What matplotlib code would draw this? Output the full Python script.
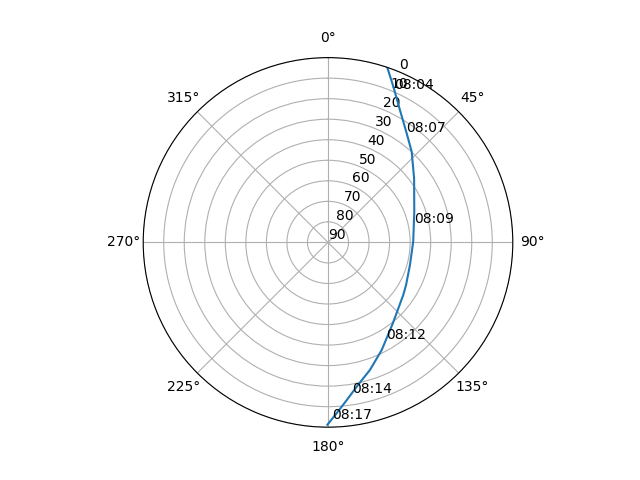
import numpy as np
import matplotlib
matplotlib.use("Agg")
import matplotlib.pyplot as plt

# Satellite pass track: azimuth (deg) and elevation (deg)
azimuth = [18.7, 22.8, 28.5, 35.8, 42.7, 53.3, 70.4, 89.5, 105.4, 118.6, 124.9,
           141.3, 153.5, 161.8, 167.5, 173.2, 177.1, 180.2]
elevation = [0.0, 7.8, 16.6, 24.5, 29.9, 37.7, 45.4, 48.5, 48.6, 46.7, 45.3,
             39.5, 31.4, 24.6, 19.7, 12.7, 6.7, 1.2]

# Time labels along the track
label_times = ["08:04", "08:07", "08:09", "08:12", "08:14", "08:17"]
label_az = [23.3, 35.3, 77.3, 149.0, 170.9, 178.7]
label_el = [8.7, 24.1, 47.0, 35.1, 15.7, 4.0]

radial_ticks = [0, 10, 20, 30, 40, 50, 60, 70, 80, 90]

fig = plt.figure(figsize=(6.4, 4.8), dpi=100)
ax = fig.add_subplot(111, projection="polar")
ax.set_theta_zero_location("N")
ax.set_theta_direction(-1)

ax.plot(np.radians(azimuth), elevation, color="C0")
for t, a, e in zip(label_times, label_az, label_el):
    ax.text(np.radians(a), e, t)

ax.set_ylim(90, 0)
ax.set_yticks(radial_ticks)

fig.savefig("out.png", dpi=100)
